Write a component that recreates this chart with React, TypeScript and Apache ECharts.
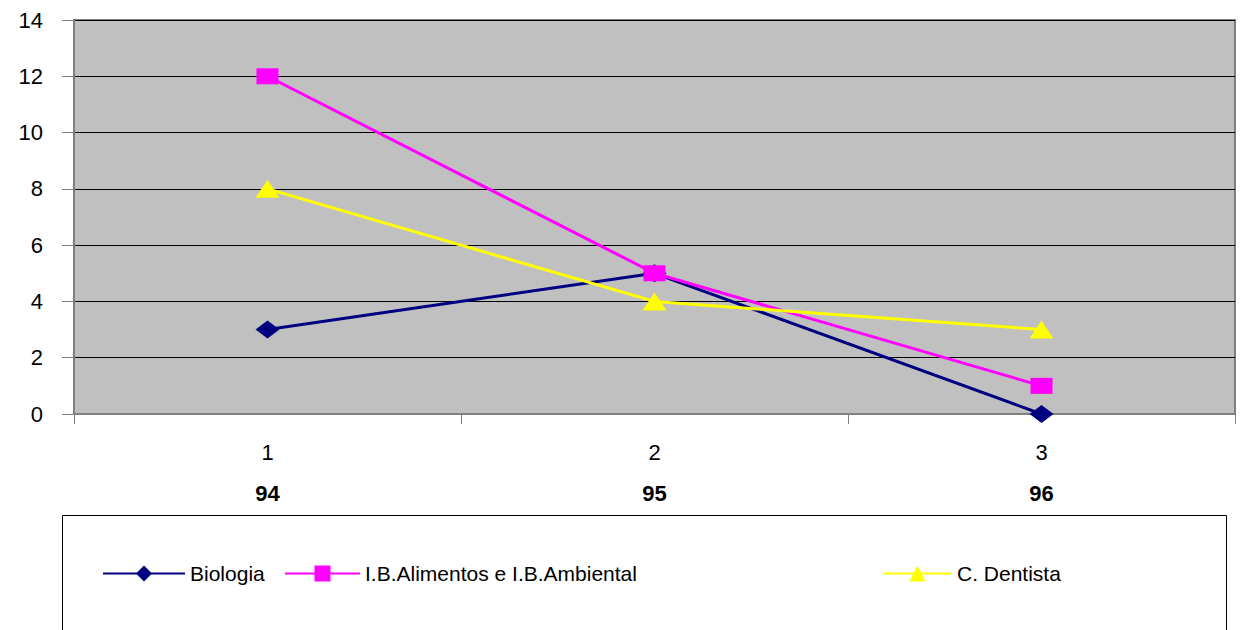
import React, { useEffect, useRef } from "react";
import * as echarts from "echarts";

const categories = ["1", "2", "3"];
const years = ["94", "95", "96"];
const biologia = [3, 5, 0];
const alimentos = [12, 5, 1];
const dentista = [8, 4, 3];
const seriesNames = ["Biologia", "I.B.Alimentos e I.B.Ambiental", "C. Dentista"];

export default function App() {
  const ref = useRef<HTMLDivElement>(null);
  useEffect(() => {
    const chart = echarts.init(ref.current!, null, { renderer: "svg" });
    const font = "'Liberation Sans', Arial, sans-serif";
    const legendText = { fontFamily: font, fontSize: 21, color: "#000" };
    chart.setOption({
      animation: false,
      backgroundColor: "#fff",
      textStyle: { fontFamily: font },
      grid: {
        left: 74,
        top: 20,
        right: 5,
        bottom: 216,
        show: true,
        backgroundColor: "#C0C0C0",
        borderColor: "#808080",
        borderWidth: 2,
      },
      xAxis: {
        type: "category",
        data: categories,
        boundaryGap: true,
        axisLine: { lineStyle: { color: "#808080", width: 2 } },
        axisTick: { show: true, length: 10, lineStyle: { color: "#808080" } },
        axisLabel: {
          margin: 18,
          formatter: (v: string, i: number) => `{a|${v}}\n{b|${years[i]}}`,
          rich: {
            a: { fontSize: 22, lineHeight: 41, color: "#000", fontFamily: font },
            b: { fontSize: 22, lineHeight: 41, fontWeight: "bold", color: "#000", fontFamily: font },
          },
        },
      },
      yAxis: {
        type: "value",
        min: 0,
        max: 14,
        interval: 2,
        axisLine: { show: true, lineStyle: { color: "#808080", width: 2 } },
        axisTick: { show: true, length: 12, lineStyle: { color: "#808080" } },
        axisLabel: { fontSize: 22, color: "#000", margin: 31, fontFamily: font },
        splitLine: { lineStyle: { color: "#000", width: 1 } },
      },
      legend: [
        {
          data: [seriesNames[0]],
          left: 102,
          top: 563,
          padding: 0,
          itemWidth: 82,
          itemHeight: 20,
          textStyle: legendText,
        },
        {
          data: [seriesNames[1]],
          left: 284,
          top: 563,
          padding: 0,
          itemWidth: 75,
          itemHeight: 20,
          textStyle: legendText,
        },
        {
          data: [seriesNames[2]],
          left: 882,
          top: 563,
          padding: 0,
          itemWidth: 69,
          itemHeight: 20,
          textStyle: legendText,
        },
      ],
      graphic: [
        {
          type: "rect",
          shape: { x: 62.5, y: 515.5, width: 1164, height: 140 },
          style: { fill: "none", stroke: "#000", lineWidth: 1 },
          silent: true,
        },
      ],
      series: [
        {
          name: seriesNames[0],
          type: "line",
          data: biologia,
          symbol: "diamond",
          symbolSize: [24, 18],
          lineStyle: { color: "#000080", width: 3 },
          itemStyle: { color: "#000080" },
        },
        {
          name: seriesNames[1],
          type: "line",
          data: alimentos,
          symbol: "rect",
          symbolSize: [22, 16],
          lineStyle: { color: "#FF00FF", width: 3 },
          itemStyle: { color: "#FF00FF" },
        },
        {
          name: seriesNames[2],
          type: "line",
          data: dentista,
          symbol: "triangle",
          symbolSize: [24, 18],
          lineStyle: { color: "#FFFF00", width: 3 },
          itemStyle: { color: "#FFFF00" },
        },
      ],
    });
    return () => chart.dispose();
  }, []);
  return (
    <div
      ref={ref}
      style={{ position: "fixed", left: 0, top: 0, width: 1240, height: 630 }}
    />
  );
}
